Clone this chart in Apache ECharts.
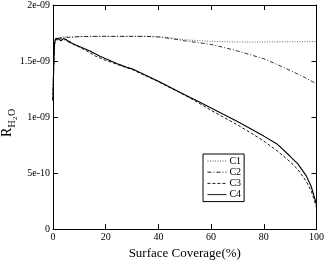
<!DOCTYPE html>
<html><head><meta charset="utf-8">
<script src="https://cdn.jsdelivr.net/npm/echarts@6/dist/echarts.min.js"></script>
<style>html,body{margin:0;padding:0;background:#fff}#c{width:327px;height:265px}</style>
</head><body><div id="c"></div>
<script>
// values in units of 1e-9
const seriesNames = ['C1', 'C2', 'C3', 'C4'];
const xA = [0, 0.3, 0.6, 1, 2, 3, 4, 5, 6, 8, 10, 15, 20, 25, 30, 35, 40, 45, 50, 55, 60, 65, 70, 75, 80, 85, 90, 95, 100];
const c1 = [1.15, 1.55, 1.68, 1.70, 1.71, 1.70, 1.72, 1.71, 1.715, 1.715, 1.718, 1.718, 1.72, 1.72, 1.72, 1.72, 1.717, 1.705, 1.69, 1.682, 1.676, 1.672, 1.67, 1.669, 1.67, 1.671, 1.672, 1.673, 1.674];
const c2 = [1.15, 1.52, 1.66, 1.69, 1.70, 1.71, 1.705, 1.715, 1.71, 1.715, 1.718, 1.72, 1.72, 1.72, 1.72, 1.72, 1.715, 1.70, 1.68, 1.665, 1.648, 1.62, 1.59, 1.555, 1.52, 1.47, 1.416, 1.36, 1.296];
const xB = [0, 0.3, 0.6, 1, 1.5, 2, 3, 4, 5, 6, 7, 8, 10, 12, 14, 16, 18, 20, 22, 25, 28, 30, 35, 40, 45, 50, 55, 60, 65, 70, 75, 80, 85, 90, 93, 96, 98, 99, 100];
const c3 = [1.15, 1.48, 1.65, 1.69, 1.70, 1.69, 1.70, 1.685, 1.695, 1.68, 1.665, 1.645, 1.625, 1.60, 1.575, 1.545, 1.525, 1.505, 1.49, 1.465, 1.44, 1.425, 1.37, 1.315, 1.255, 1.195, 1.13, 1.06, 0.995, 0.93, 0.86, 0.785, 0.70, 0.60, 0.53, 0.43, 0.34, 0.27, 0.19];
const c4 = [1.15, 1.50, 1.66, 1.70, 1.69, 1.70, 1.68, 1.70, 1.69, 1.67, 1.66, 1.65, 1.63, 1.61, 1.59, 1.565, 1.54, 1.52, 1.50, 1.47, 1.445, 1.43, 1.375, 1.32, 1.26, 1.20, 1.14, 1.08, 1.02, 0.96, 0.895, 0.83, 0.76, 0.65, 0.58, 0.48, 0.38, 0.30, 0.22];
const xTicks = [0, 20, 40, 60, 80, 100];
const yTickLabels = {0: '0', 0.5: '5e-10', 1: '1e-09', 1.5: '1.5e-09', 2: '2e-09'};

const pair = (xs, ys) => xs.map((x, i) => [x, ys[i]]);
const F = 'Liberation Serif';
const chart = echarts.init(document.getElementById('c'), null, {renderer: 'canvas'});
const lineAx = {show: true, onZero: false, lineStyle: {color: '#000', width: 1}};
const tick = {show: true, inside: true, length: 5, lineStyle: {color: '#000'}};
const styles = [
  {type: [1, 1.5], color: '#444', width: 0.8},
  {type: [4, 2, 1, 2], color: '#000', width: 0.8},
  {type: [3, 2], color: '#000', width: 0.9},
  {type: 'solid', color: '#000', width: 1.1}
];
const dataSets = [pair(xA, c1), pair(xA, c2), pair(xB, c3), pair(xB, c4)];
chart.setOption({
  animation: false,
  backgroundColor: '#fff',
  grid: {left: 53, right: 8, top: 4, bottom: 28},
  xAxis: [
    {type: 'value', min: 0, max: 100, interval: 20, axisLine: lineAx, axisTick: tick,
     splitLine: {show: false},
     axisLabel: {fontFamily: F, fontSize: 10, color: '#000', margin: 3,
       formatter: v => xTicks.includes(v) ? String(v) : ''},
     name: 'Surface Coverage(%)', nameLocation: 'middle', nameGap: 16,
     nameTextStyle: {fontFamily: F, fontSize: 13, color: '#000'}},
    {type: 'value', position: 'top', min: 0, max: 100, interval: 20, axisLine: lineAx, axisTick: tick,
     splitLine: {show: false}, axisLabel: {show: false}}
  ],
  yAxis: [
    {type: 'value', min: 0, max: 2, interval: 0.5, axisLine: lineAx, axisTick: tick,
     splitLine: {show: false},
     axisLabel: {fontFamily: F, fontSize: 10, color: '#000', margin: 3,
       formatter: v => yTickLabels[v] !== undefined ? yTickLabels[v] : ''}},
    {type: 'value', position: 'right', min: 0, max: 2, interval: 0.5, axisLine: lineAx, axisTick: tick,
     splitLine: {show: false}, axisLabel: {show: false}}
  ],
  legend: {
    orient: 'vertical', left: 203, top: 154, data: seriesNames,
    itemWidth: 19, itemHeight: 8, itemGap: 1.2,
    borderColor: '#000', borderWidth: 1, padding: [2, 3, 2, 4],
    textStyle: {fontFamily: F, fontSize: 10, color: '#000', padding: [0, 0, 0, -2]},
    itemStyle: {color: 'rgba(0,0,0,0)', borderWidth: 0, opacity: 0},
    lineStyle: {width: 0.9}
  },
  series: seriesNames.map((n, i) => ({
    name: n, type: 'line', data: dataSets[i], symbol: 'none', showSymbol: false,
    lineStyle: styles[i], itemStyle: {color: styles[i].color}
  })),
  graphic: [{
    type: 'group', x: 14, y: 137, rotation: Math.PI / 2,
    children: [
      {type: 'text', x: 0, y: 0, style: {text: 'R', font: '14px "Liberation Serif"', fill: '#000', textVerticalAlign: 'bottom'}},
      {type: 'text', x: 9.5, y: 3, style: {text: 'H', font: '10px "Liberation Serif"', fill: '#000', textVerticalAlign: 'bottom'}},
      {type: 'text', x: 17, y: 5, style: {text: '2', font: '7px "Liberation Serif"', fill: '#000', textVerticalAlign: 'bottom'}},
      {type: 'text', x: 21, y: 3, style: {text: 'O', font: '10px "Liberation Serif"', fill: '#000', textVerticalAlign: 'bottom'}}
    ]
  }]
});
</script></body></html>
